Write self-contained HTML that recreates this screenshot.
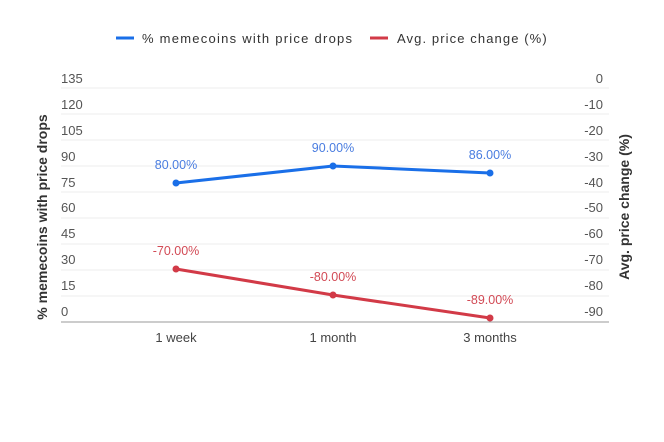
<!DOCTYPE html>
<html><head><style>body{margin:0;background:#fff}</style></head><body>
<svg width="664" height="437" xmlns="http://www.w3.org/2000/svg" font-family="Liberation Sans, sans-serif">
<rect width="664" height="437" fill="#fff"/>
<g stroke="#ececec" stroke-width="1">
<line x1="61" x2="609" y1="88" y2="88"/><line x1="61" x2="609" y1="114" y2="114"/><line x1="61" x2="609" y1="140" y2="140"/><line x1="61" x2="609" y1="166" y2="166"/><line x1="61" x2="609" y1="192" y2="192"/><line x1="61" x2="609" y1="218" y2="218"/><line x1="61" x2="609" y1="244" y2="244"/><line x1="61" x2="609" y1="270" y2="270"/><line x1="61" x2="609" y1="296" y2="296"/>
</g>
<line x1="61" x2="609" y1="322" y2="322" stroke="#999"/>
<g font-size="13" fill="#555">
<text x="61" y="83">135</text><text x="61" y="109">120</text><text x="61" y="135">105</text><text x="61" y="161">90</text><text x="61" y="187">75</text><text x="61" y="212">60</text><text x="61" y="238">45</text><text x="61" y="264">30</text><text x="61" y="290">15</text><text x="61" y="316">0</text>
</g>
<g font-size="13" fill="#555" text-anchor="end">
<text x="603" y="83">0</text><text x="603" y="109">-10</text><text x="603" y="135">-20</text><text x="603" y="161">-30</text><text x="603" y="187">-40</text><text x="603" y="212">-50</text><text x="603" y="238">-60</text><text x="603" y="264">-70</text><text x="603" y="290">-80</text><text x="603" y="316">-90</text>
</g>
<g font-size="13" fill="#444" text-anchor="middle">
<text x="176" y="342">1 week</text><text x="333" y="342">1 month</text><text x="490" y="342">3 months</text>
</g>
<text transform="translate(47,217) rotate(-90)" text-anchor="middle" font-size="14" font-weight="bold" fill="#333">% memecoins with price drops</text>
<text transform="translate(629,207) rotate(-90)" text-anchor="middle" font-size="14" font-weight="bold" fill="#333">Avg. price change (%)</text>
<polyline points="176,183 333,166 490,173" fill="none" stroke="#1a6fe8" stroke-width="3"/>
<g fill="#1a6fe8"><circle cx="176" cy="183" r="3.5"/><circle cx="333" cy="166" r="3.5"/><circle cx="490" cy="173" r="3.5"/></g>
<polyline points="176,269 333,295 490,318" fill="none" stroke="#d23a47" stroke-width="3"/>
<g fill="#d23a47"><circle cx="176" cy="269" r="3.5"/><circle cx="333" cy="295" r="3.5"/><circle cx="490" cy="318" r="3.5"/></g>
<g font-size="12.5" text-anchor="middle" fill="#4a7de0">
<text x="176" y="169">80.00%</text><text x="333" y="152">90.00%</text><text x="490" y="159">86.00%</text>
</g>
<g font-size="12.5" text-anchor="middle" fill="#d24a55">
<text x="176" y="255">-70.00%</text><text x="333" y="281">-80.00%</text><text x="490" y="304">-89.00%</text>
</g>
<line x1="116" x2="134" y1="38" y2="38" stroke="#1a6fe8" stroke-width="3"/>
<text x="142" y="43" font-size="13" fill="#333" letter-spacing="1.25">% memecoins with price drops</text>
<line x1="370" x2="388" y1="38" y2="38" stroke="#d23a47" stroke-width="3"/>
<text x="397" y="43" font-size="13" fill="#333" letter-spacing="1.1">Avg. price change (%)</text>
</svg>
</body></html>
